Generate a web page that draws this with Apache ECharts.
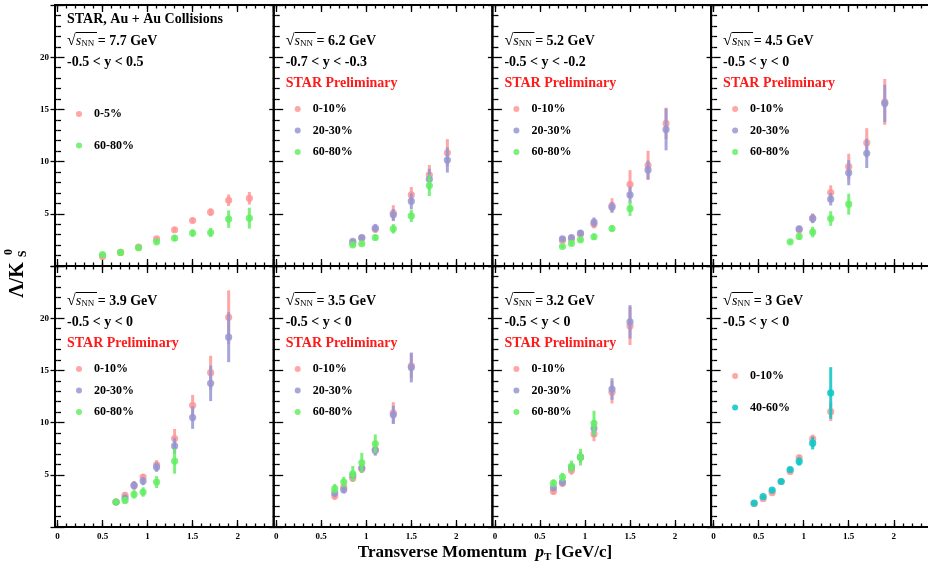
<!DOCTYPE html>
<html>
<head>
<meta charset="utf-8">
<script src="https://cdn.jsdelivr.net/npm/echarts@6/dist/echarts.min.js"></script>
<style>
    html, body { margin: 0; padding: 0; background: #fff; }
    #chart { width: 928px; height: 569px; }
</style>
</head>
<body>
<div id="chart"></div>
<script>
// Lambda/K0S vs pT, each point is [pT, ratio, error]
const r77_0_5 = [[0.5, 0.92, 0.12], [0.7, 1.3, 0.12], [0.9, 1.81, 0.15], [1.1, 2.61, 0.18], [1.3, 3.47, 0.22], [1.5, 4.36, 0.25], [1.7, 5.16, 0.35], [1.9, 6.3, 0.55], [2.13, 6.49, 0.6]]
const r77_60_80 = [[0.5, 1.08, 0.12], [0.7, 1.3, 0.12], [0.9, 1.75, 0.15], [1.1, 2.32, 0.2], [1.3, 2.67, 0.27], [1.5, 3.15, 0.35], [1.7, 3.21, 0.43], [1.9, 4.49, 0.84], [2.13, 4.58, 1.0]]

const r62_0_10 = [[0.85, 2.25, 0.15], [0.95, 2.67, 0.2], [1.1, 3.53, 0.3], [1.3, 5.06, 0.76], [1.5, 6.81, 0.76], [1.7, 8.72, 0.95], [1.9, 10.85, 1.3]]
const r62_20_30 = [[0.85, 2.35, 0.15], [0.95, 2.73, 0.2], [1.1, 3.63, 0.4], [1.3, 4.9, 0.56], [1.5, 6.21, 0.76], [1.7, 8.31, 1.0], [1.9, 10.15, 1.2]]
const r62_60_80 = [[0.85, 2.03, 0.15], [0.95, 2.13, 0.15], [1.1, 2.73, 0.25], [1.3, 3.56, 0.45], [1.5, 4.8, 0.6], [1.7, 7.7, 1.0]]

const r52_0_10 = [[0.75, 2.45, 0.2], [0.85, 2.58, 0.2], [0.95, 3.05, 0.25], [1.1, 4.0, 0.4], [1.3, 5.79, 0.7], [1.5, 7.83, 1.35], [1.7, 9.64, 1.4], [1.9, 13.66, 1.5]]
const r52_20_30 = [[0.75, 2.61, 0.2], [0.85, 2.73, 0.25], [0.95, 3.15, 0.3], [1.1, 4.2, 0.45], [1.3, 5.63, 0.5], [1.5, 6.81, 0.8], [1.7, 9.2, 0.9], [1.9, 13.08, 2.0]]
const r52_60_80 = [[0.75, 1.87, 0.15], [0.85, 2.16, 0.2], [0.95, 2.51, 0.2], [1.1, 2.8, 0.3], [1.3, 3.59, 0.3], [1.5, 5.5, 0.7]]

const r45_0_10 = [[0.95, 3.47, 0.3], [1.1, 4.58, 0.45], [1.3, 7.03, 0.7], [1.5, 9.51, 1.24], [1.7, 11.8, 1.4], [1.9, 15.72, 2.2]]
const r45_20_30 = [[0.95, 3.56, 0.3], [1.1, 4.55, 0.45], [1.3, 6.4, 0.6], [1.5, 8.94, 1.2], [1.7, 10.79, 1.4], [1.9, 15.57, 1.8]]
const r45_60_80 = [[0.85, 2.32, 0.15], [0.95, 2.83, 0.3], [1.1, 3.25, 0.5], [1.3, 4.55, 0.7], [1.5, 5.92, 1.0]]

const r39_0_10 = [[0.65, 2.39, 0.2], [0.75, 3.03, 0.3], [0.85, 3.98, 0.4], [0.95, 4.78, 0.3], [1.1, 5.96, 0.45], [1.3, 8.47, 0.92], [1.5, 11.65, 1.0], [1.7, 14.78, 1.62], [1.9, 20.09, 2.58]]
const r39_20_30 = [[0.65, 2.39, 0.2], [0.75, 2.77, 0.3], [0.85, 3.98, 0.4], [0.95, 4.4, 0.4], [1.1, 5.73, 0.45], [1.3, 7.77, 0.76], [1.5, 10.48, 1.08], [1.7, 13.76, 1.7], [1.9, 18.18, 2.39]]
const r39_60_80 = [[0.65, 2.39, 0.2], [0.75, 2.55, 0.3], [0.85, 3.12, 0.4], [0.95, 3.35, 0.45], [1.1, 4.3, 0.57], [1.3, 6.31, 1.2]]

const r35_0_10 = [[0.65, 2.96, 0.35], [0.75, 3.82, 0.35], [0.85, 4.68, 0.35], [0.95, 5.58, 0.4], [1.1, 7.42, 0.5], [1.3, 10.93, 1.03], [1.5, 15.44, 1.2]]
const r35_20_30 = [[0.65, 3.25, 0.35], [0.75, 3.57, 0.35], [0.85, 4.94, 0.35], [0.95, 5.64, 0.4], [1.1, 7.33, 0.5], [1.3, 10.74, 0.87], [1.5, 15.28, 1.43]]
const r35_60_80 = [[0.65, 3.67, 0.45], [0.75, 4.3, 0.5], [0.85, 5.1, 0.75], [0.95, 6.15, 0.95], [1.1, 7.97, 0.9]]

const r32_0_10 = [[0.65, 3.41, 0.3], [0.75, 4.2, 0.35], [0.85, 5.41, 0.4], [0.95, 6.69, 0.5], [1.1, 8.92, 0.7], [1.3, 12.9, 1.07], [1.5, 19.26, 1.83]]
const r32_20_30 = [[0.65, 3.76, 0.3], [0.75, 4.3, 0.35], [0.85, 5.73, 0.4], [0.95, 6.69, 0.5], [1.1, 9.46, 0.8], [1.3, 13.22, 1.03], [1.5, 19.65, 1.6]]
const r32_60_80 = [[0.65, 4.2, 0.35], [0.75, 4.78, 0.4], [0.85, 5.8, 0.56], [0.95, 6.69, 0.8], [1.1, 9.93, 1.2]]

const r30_0_10 = [[0.45, 2.23, 0.1], [0.55, 2.71, 0.12], [0.65, 3.29, 0.15], [0.75, 4.36, 0.2], [0.85, 5.32, 0.25], [0.95, 6.63, 0.3], [1.1, 8.44, 0.4], [1.3, 11.05, 0.9]]
const r30_40_60 = [[0.45, 2.29, 0.1], [0.55, 2.9, 0.12], [0.65, 3.54, 0.15], [0.75, 4.36, 0.2], [0.85, 5.51, 0.25], [0.95, 6.28, 0.4], [1.1, 8.03, 0.6], [1.3, 12.84, 2.47]]

const energies = ['7.7', '6.2', '5.2', '4.5', '3.9', '3.5', '3.2', '3']
const rapidity = ['-0.5 < y < 0.5', '-0.7 < y < -0.3', '-0.5 < y < -0.2', '-0.5 < y < 0',
    '-0.5 < y < 0', '-0.5 < y < 0', '-0.5 < y < 0', '-0.5 < y < 0']

const panels = [
    [['0-5%', r77_0_5], ['60-80%', r77_60_80]],
    [['0-10%', r62_0_10], ['20-30%', r62_20_30], ['60-80%', r62_60_80]],
    [['0-10%', r52_0_10], ['20-30%', r52_20_30], ['60-80%', r52_60_80]],
    [['0-10%', r45_0_10], ['20-30%', r45_20_30], ['60-80%', r45_60_80]],
    [['0-10%', r39_0_10], ['20-30%', r39_20_30], ['60-80%', r39_60_80]],
    [['0-10%', r35_0_10], ['20-30%', r35_20_30], ['60-80%', r35_60_80]],
    [['0-10%', r32_0_10], ['20-30%', r32_20_30], ['60-80%', r32_60_80]],
    [['0-10%', r30_0_10], ['40-60%', r30_40_60]]
]

const colorOf = {
    '0-5%': 'rgba(255,150,150,0.85)',
    '0-10%': 'rgba(255,150,150,0.85)',
    '20-30%': 'rgba(150,150,210,0.85)',
    '60-80%': 'rgba(100,238,100,0.85)',
    '40-60%': 'rgba(20,200,200,0.9)'
}

const FONT = '"Liberation Serif", "DejaVu Serif", serif'
const PL = 55, PT = 5, PW = 218.7, PH = 261, XOFF = 2.5

const tickStyle = { color: '#000', width: 1.3 }

const grid = [], xAxis = [], yAxis = [], series = [], graphic = []

const renderPoint = (color) => (params, api) => {
    const x = api.value(0), y = api.value(1), e = api.value(2)
    const p = api.coord([x, y])
    const lo = api.coord([x, y - e])
    const hi = api.coord([x, y + e])
    return {
        type: 'group',
        children: [
            { type: 'line', shape: { x1: lo[0], y1: lo[1], x2: hi[0], y2: hi[1] }, style: { stroke: color, lineWidth: 3 } },
            { type: 'circle', shape: { cx: p[0], cy: p[1], r: 3.6 }, style: { fill: color } }
        ]
    }
}

panels.forEach((list, i) => {
    const col = i % 4, row = Math.floor(i / 4)
    const left = PL + col * PW, top = PT + row * PH
    grid.push({ left: left + XOFF, top, width: PW - XOFF, height: PH, outerBoundsMode: 'none' })

    const xBase = { type: 'value', gridIndex: i, min: 0, max: 2.4, splitLine: { show: false }, axisLine: { show: false } }
    const xi = xAxis.length
    xAxis.push(
        {
            ...xBase, position: 'bottom', interval: 0.5,
            axisTick: { inside: true, length: 7, lineStyle: tickStyle },
            axisLabel: {
                show: row === 1, showMaxLabel: false, margin: 5,
                fontFamily: FONT, fontWeight: 'bold', fontSize: 9, color: '#000'
            }
        },
        { ...xBase, position: 'bottom', interval: 0.1, axisTick: { inside: true, length: 3.5, lineStyle: tickStyle }, axisLabel: { show: false } },
        { ...xBase, position: 'top', interval: 0.5, axisTick: { inside: true, length: 7, lineStyle: tickStyle }, axisLabel: { show: false } },
        { ...xBase, position: 'top', interval: 0.1, axisTick: { inside: true, length: 3.5, lineStyle: tickStyle }, axisLabel: { show: false } }
    )

    const yBase = {
        type: 'value', gridIndex: i, min: 0, max: 25, interval: 5,
        splitLine: { show: false }, minorSplitLine: { show: false }, axisLine: { show: false },
        axisTick: { inside: true, length: 7, lineStyle: tickStyle },
        minorTick: { show: true, splitNumber: 5, length: 3.5, lineStyle: tickStyle }
    }
    const yi = yAxis.length
    yAxis.push(
        {
            ...yBase, position: 'left', offset: XOFF,
            axisLabel: {
                show: col === 0, showMinLabel: false, showMaxLabel: false, margin: 6,
                fontFamily: FONT, fontWeight: 'bold', fontSize: 9, color: '#000'
            }
        },
        { ...yBase, position: 'right', axisLabel: { show: false } }
    )

    list.forEach(([name, data]) => {
        series.push({
            type: 'custom',
            name,
            xAxisIndex: xi,
            yAxisIndex: yi,
            data,
            renderItem: renderPoint(colorOf[name])
        })
    })

    // panel frame
    graphic.push({
        type: 'rect', z: 100,
        shape: { x: left, y: top, width: PW, height: PH },
        style: { fill: 'none', stroke: '#000', lineWidth: 2 }
    })

    // texts
    const tx = left + 12
    const line0 = top + (row === 0 ? 36 : 35)
    if (i === 0) {
        graphic.push({
            type: 'text', x: tx, y: top + 14,
            style: { text: 'STAR, Au + Au Collisions', font: 'bold 14px ' + FONT, fill: '#000', verticalAlign: 'middle' }
        })
    }
    graphic.push({
        type: 'text', x: tx, y: line0,
        style: {
            text: '{r|√}{s|s}{n|NN}{t| = ' + energies[i] + ' GeV}',
            verticalAlign: 'middle',
            rich: {
                r: { font: '16px ' + FONT, fill: '#000' },
                s: { font: 'italic 14px ' + FONT, fill: '#000' },
                n: { font: '9px ' + FONT, fill: '#000', padding: [6, 0, 0, 0] },
                t: { font: 'bold 14px ' + FONT, fill: '#000' }
            }
        }
    })
    graphic.push({
        type: 'line', z: 100,
        shape: { x1: tx + 9, y1: line0 - 8.5, x2: tx + 30, y2: line0 - 8.5 },
        style: { stroke: '#000', lineWidth: 1 }
    })
    graphic.push({
        type: 'text', x: tx, y: line0 + 21,
        style: { text: rapidity[i], font: 'bold 14px ' + FONT, fill: '#000', verticalAlign: 'middle' }
    })
    if (i > 0 && i < 7) {
        graphic.push({
            type: 'text', x: tx, y: line0 + 42,
            style: { text: 'STAR Preliminary', font: 'bold 14px ' + FONT, fill: '#ff1a1a', verticalAlign: 'middle' }
        })
    }

    // legend
    const two = list.length === 2
    list.forEach(([name], k) => {
        const ly = two ? top + (i === 0 ? 109 : 110) + k * 31.5 : line0 + 68 + k * 21.5
        graphic.push({
            type: 'circle',
            shape: { cx: left + 24, cy: ly, r: 3 },
            style: { fill: colorOf[name] }
        })
        graphic.push({
            type: 'text', x: left + 39, y: ly,
            style: { text: name, font: 'bold 12px ' + FONT, fill: '#000', verticalAlign: 'middle' }
        })
    })
})

// axis titles
graphic.push({
    type: 'text', x: 485, y: 553,
    style: {
        text: '{a|Transverse Momentum  }{p|p}{s|T}{a| [GeV/c]}',
        align: 'center', verticalAlign: 'middle',
        rich: {
            a: { font: 'bold 17px ' + FONT, fill: '#000' },
            p: { font: 'bold italic 17px ' + FONT, fill: '#000' },
            s: { font: 'bold 11px ' + FONT, fill: '#000', padding: [8, 0, 0, 0] }
        }
    }
})
graphic.push({
    type: 'text', x: 18, y: 280, rotation: Math.PI / 2,
    style: { text: 'Λ/K', font: 'bold 20px ' + FONT, fill: '#000', align: 'center', verticalAlign: 'middle' }
})
graphic.push({
    type: 'text', x: 9, y: 252, rotation: Math.PI / 2,
    style: { text: '0', font: 'bold 12px ' + FONT, fill: '#000', align: 'center', verticalAlign: 'middle' }
})
graphic.push({
    type: 'text', x: 23, y: 254, rotation: Math.PI / 2,
    style: { text: 'S', font: 'bold 12px ' + FONT, fill: '#000', align: 'center', verticalAlign: 'middle' }
})

const myChart = echarts.init(document.getElementById('chart'))
myChart.setOption({
    animation: false,
    grid,
    xAxis,
    yAxis,
    series,
    graphic
})
</script>
</body>
</html>
